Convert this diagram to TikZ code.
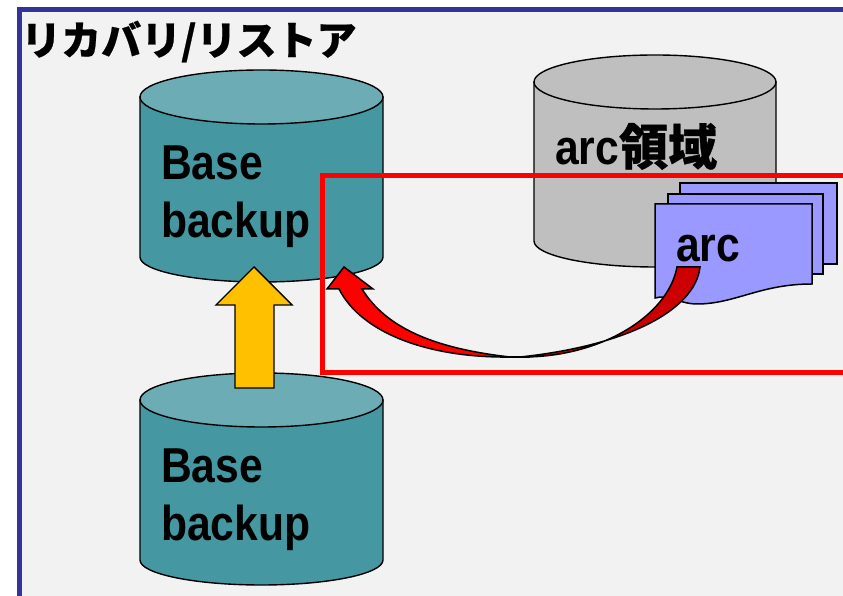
\documentclass[tikz,border=0pt]{standalone}
\usepackage{fontspec}
\setmainfont[FakeStretch=0.87]{Liberation Sans}
\newfontfamily\cjk[FakeBold=0.6]{Noto Sans CJK JP}
\definecolor{framecol}{HTML}{333399}
\definecolor{paper}{HTML}{F2F2F2}
\definecolor{tealside}{HTML}{4598A2}
\definecolor{tealtop}{HTML}{6CACB5}
\definecolor{graydb}{HTML}{BFBFBF}
\definecolor{sheet}{HTML}{9999FF}
\definecolor{amber}{HTML}{FFC000}
\definecolor{darkred}{HTML}{CC0000}
\tikzset{
  dbline/.style={draw=black,line width=1.4pt},
  sheetbox/.style={draw=black,line width=1.5pt,fill=sheet},
  label/.style={anchor=base west,inner sep=0pt,font=\bfseries\fontsize{49}{49}\selectfont},
  title/.style={anchor=base west,inner sep=0pt,font=\cjk\bfseries\fontsize{40}{40}\selectfont}
}
\begin{document}
\begin{tikzpicture}[x=1pt,y=1pt]
    \clip (0,0) rectangle (843,596);
    \fill[white] (0,0) rectangle (843,596);
    \fill[paper] (19,0) rectangle (843,587);
    \draw[framecol,line width=5pt] (19,0)--(19,586.5)--(843,586.5);
    \node[title] (heading) at (21,541) {リカバリ/リストア};
    \foreach \yt/\yb in {499/339,196/36}{
      \draw[dbline,fill=tealside] (140,\yt)--(140,\yb) arc (180:360:121.5 and 25)--(383,\yt)--cycle;
      \draw[dbline,fill=tealtop] (261.5,\yt) ellipse (121.5 and 27);
    }
    \draw[dbline,fill=graydb] (534,514)--(534,355) arc (180:360:121 and 26)--(776,514)--cycle;
    \draw[dbline,fill=graydb] (655,514) ellipse (121 and 27);
    \node[label] (basea) at (161,416) {Base};
    \node[label] (backupa) at (161,358) {backup};
    \node[label] (baseb) at (161,113) {Base};
    \node[label] (backupb) at (161,55) {backup};
    \node[label] (arcarea) at (555,431) {arc{\cjk 領域}};
    \draw[red,line width=5pt] (843,420.5)--(322.5,420.5)--(322.5,223.5)--(843,223.5);
    \draw[sheetbox] (680,332) rectangle (837,413);
    \draw[sheetbox] (668,322) rectangle (823,402);
    \draw[sheetbox] (655,392)--(812,392)--(812,312) .. controls (760,312) and (735,292) .. (697,292) .. controls (680,292) and (668,302) .. (655,298)--cycle;
    \node[label] (arcfile) at (676,334) {arc};
    \draw[black,line width=1.4pt,fill=amber] (254,329)--(292,291)--(274,291)--(274,208)--(235,208)--(235,291)--(216,291)--cycle;
    \draw[black,line width=1.5pt,fill=red] (344,329)--(373,307)--(362,307) .. controls (385,270) and (430,248) .. (510,239) .. controls (430,238) and (362,262) .. (339,307)--(327,307)--cycle;
    \draw[black,line width=1.5pt,fill=darkred] (677,329)--(700,329) .. controls (695,285) and (625,250) .. (520,239) .. controls (600,238) and (668,280) .. (677,329)--cycle;
    \draw[black,line width=1.5pt] (500,239)--(530,239);
\end{tikzpicture}
\end{document}
